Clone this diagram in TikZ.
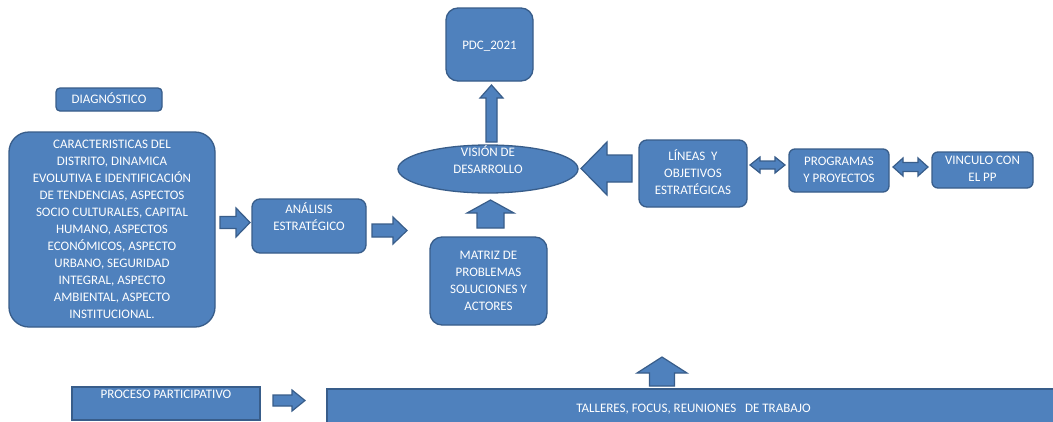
\documentclass[tikz,border=0pt]{standalone}
\usepackage{fontspec}
\setmainfont{Carlito}
\usetikzlibrary{shapes.geometric}
\definecolor{boxfill}{HTML}{4F81BD}
\definecolor{boxline}{HTML}{385D8A}
\newcommand\tx[2][0]{\raisebox{#1pt}[0pt][0pt]{\begin{tabular}{@{}c@{}}#2\end{tabular}}}
% horizontal block arrow: tail x, tip x, centre y, shaft half, head half, head length (signed)
\newcommand\harrow[6]{\draw[barrow] (#1,{#3-#4}) -- ({#2-#6},{#3-#4}) -- ({#2-#6},{#3-#5}) -- (#2,#3) -- ({#2-#6},{#3+#5}) -- ({#2-#6},{#3+#4}) -- (#1,{#3+#4}) -- cycle;}
% vertical block arrow: tail y, tip y, centre x, shaft half, head half, head length (signed)
\newcommand\varrow[6]{\draw[barrow] ({#3-#4},#1) -- ({#3-#4},{#2+#6}) -- ({#3-#5},{#2+#6}) -- (#3,#2) -- ({#3+#5},{#2+#6}) -- ({#3+#4},{#2+#6}) -- ({#3+#4},#1) -- cycle;}
% double block arrow: left x, right x, centre y, shaft half, head half, head length
\newcommand\darrow[6]{\draw[barrow] (#1,#3) -- ({#1+#6},{#3-#5}) -- ({#1+#6},{#3-#4}) -- ({#2-#6},{#3-#4}) -- ({#2-#6},{#3-#5}) -- (#2,#3) -- ({#2-#6},{#3+#5}) -- ({#2-#6},{#3+#4}) -- ({#1+#6},{#3+#4}) -- ({#1+#6},{#3+#5}) -- cycle;}
\begin{document}
\begin{tikzpicture}[x=1pt,y=-1pt,
  box/.style={draw=boxline,fill=boxfill,line width=1.3pt,inner sep=0pt,text=white,
    font=\fontsize{13}{17}\selectfont},
  barrow/.style={draw=boxline,fill=boxfill,line width=1.2pt,line join=miter}]
\useasboundingbox (0,0) rectangle (1053,421);
\fill[white] (0,0) rectangle (1053,421);
\clip (0,0) rectangle (1053,421);

% left column
\node[box,rounded corners=4pt,minimum width=106pt,minimum height=23pt] (diag) at (109,99.5) {\tx[-3.5]{DIAGNÓSTICO}};
\node[box,rounded corners=20pt,minimum width=206pt,minimum height=195pt] (carac) at (112,229.5)
  {\tx[-3.5]{CARACTERISTICAS DEL\\DISTRITO, DINAMICA\\EVOLUTIVA E IDENTIFICACIÓN\\DE TENDENCIAS, ASPECTOS\\SOCIO CULTURALES, CAPITAL\\HUMANO, ASPECTOS\\ECONÓMICOS, ASPECTO\\URBANO, SEGURIDAD\\INTEGRAL, ASPECTO\\AMBIENTAL, ASPECTO\\INSTITUCIONAL.}};
\node[box,rounded corners=8pt,minimum width=114pt,minimum height=54pt] (ana) at (309,226) {\tx[4.5]{ANÁLISIS\\ESTRATÉGICO}};

% centre column
\node[box,rounded corners=12pt,minimum width=87pt,minimum height=73pt] (pdc) at (489.5,44.5) {\tx[-4.5]{PDC\_2021}};
\node[box,ellipse,minimum width=180pt,minimum height=48pt] (vis) at (488,169) {\tx[4.5]{VISIÓN DE\\DESARROLLO}};
\node[box,rounded corners=12pt,minimum width=117pt,minimum height=88pt] (mat) at (488.5,281) {\tx[-4]{MATRIZ DE\\PROBLEMAS\\SOLUCIONES Y\\ACTORES}};

% right row
\node[box,rounded corners=8pt,minimum width=108pt,minimum height=67pt] (lin) at (693,173.5) {\tx[-3.5]{LÍNEAS\ \ Y\\OBJETIVOS\\ESTRATÉGICAS}};
\node[box,rounded corners=6pt,minimum width=100pt,minimum height=43pt] (prog) at (839,170.5) {\tx[-3.5]{PROGRAMAS\\Y PROYECTOS}};
\node[box,rounded corners=6pt,minimum width=101pt,minimum height=36pt] (vin) at (982.5,170) {\tx[-3]{VINCULO CON\\EL PP}};

% bottom row
\node[box,minimum width=188pt,minimum height=33pt] (proc) at (166,403.5) {\tx[5.5]{PROCESO PARTICIPATIVO}};
\node[box,minimum width=733pt,minimum height=40pt] (tall) at (693.5,409) {\tx[-3.5]{TALLERES, FOCUS, REUNIONES\ \ \ DE TRABAJO}};

% block arrows
\harrow{220}{250}{222.5}{6}{14.5}{14}
\harrow{372}{407}{230.5}{6.5}{13.5}{14}
\varrow{142}{85}{491.5}{5.5}{11.5}{13}
\harrow{632}{581}{168.5}{13.5}{26.5}{-26}
\varrow{228}{200}{490.5}{13.5}{23.5}{13}
\darrow{750}{785}{165}{4}{8}{10}
\darrow{893}{928}{167}{4.5}{9}{10}
\varrow{386}{357}{662}{12.5}{25}{16}
\harrow{273}{305}{400.5}{5.5}{10.5}{13}
\end{tikzpicture}
\end{document}
